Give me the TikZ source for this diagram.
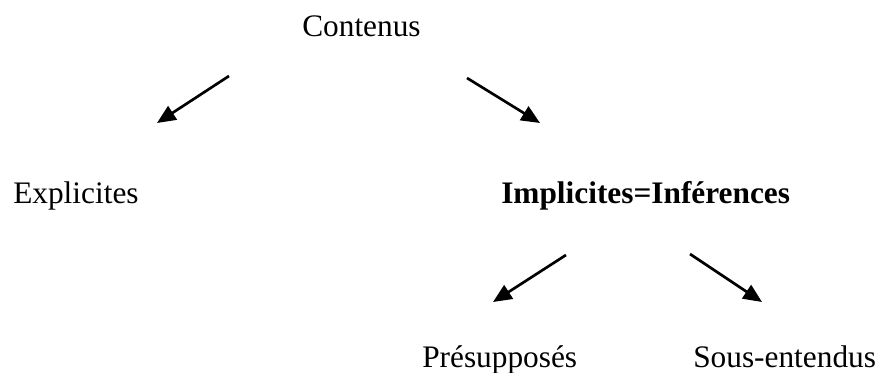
\documentclass[tikz,border=0pt]{standalone}
\usepackage{fontspec}
\setmainfont{Liberation Serif}
\usetikzlibrary{arrows.meta}
\tikzset{
  lbl/.style={anchor=base west,inner sep=0pt,font=\fontsize{23.5}{28}\selectfont},
  arr/.style={line width=2pt,-{Triangle[length=14pt,width=12pt]}}
}
\begin{document}
\begin{tikzpicture}[x=0.75pt,y=-0.75pt]
\useasboundingbox (0,0) rectangle (880,372);
\node[lbl] (cont) at (302,36) {Contenus};
\node[lbl] (expl) at (13,203) {Explicites};
\node[lbl] (impl) at (501,203) {\bfseries Implicites=Inférences};
\node[lbl] (pres) at (422,367) {Présupposés};
\node[lbl] (sous) at (693,367) {Sous-entendus};
\coordinate (a1s) at (229,76);
\coordinate (a1e) at (157,123);
\coordinate (a2s) at (467,78);
\coordinate (a2e) at (540,123);
\coordinate (a3s) at (566,255);
\coordinate (a3e) at (493,302);
\coordinate (a4s) at (690,254);
\coordinate (a4e) at (762,302);
\draw[arr] (a1s) -- (a1e);
\draw[arr] (a2s) -- (a2e);
\draw[arr] (a3s) -- (a3e);
\draw[arr] (a4s) -- (a4e);
\end{tikzpicture}
\end{document}
